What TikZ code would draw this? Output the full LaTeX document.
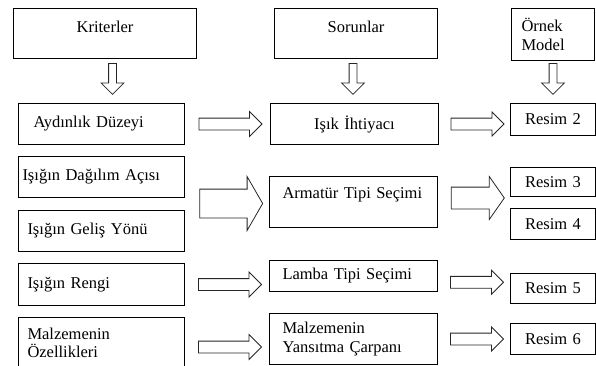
\documentclass[tikz,border=0pt]{standalone}
\usepackage{fontspec}
\setmainfont{Liberation Serif}
\usetikzlibrary{shapes.arrows, positioning, calc}
\newcommand{\diafont}{\fontsize{16.5}{18.5}\selectfont}

\begin{document}
\begin{tikzpicture}[
    x=1pt, y=-1pt,
    font=\diafont,
    box/.style    = {draw=black, line width=1pt, anchor=north west, inner ysep=0pt, align=left},
    head/.style   = {box, minimum height=50pt, align=center, text height=11pt, text depth=13pt},
    krit/.style   = {box, minimum height=41pt, inner xsep=9pt, text width=148pt},
    sorun/.style  = {box, minimum height=51pt, inner xsep=13pt, text width=142pt},
    resim/.style  = {box, inner xsep=0pt, text width=85pt, align=center},
    arr/.style    = {single arrow, draw=black!85, fill=white, line width=0.8pt,
                     single arrow head indent=0pt},
    leftarr/.style  = {arr, inner sep=5.5pt, minimum height=63pt, minimum width=24pt, single arrow head extend=6.5pt},
    rightarr/.style = {arr, inner sep=5.5pt, minimum height=53pt, minimum width=23pt, single arrow head extend=6pt},
    downarr/.style  = {arr, inner sep=3.5pt, minimum height=31pt, minimum width=22pt, single arrow head extend=7.5pt,
                       shape border rotate=270, anchor=tail},
]
\useasboundingbox (0,0) rectangle (596,365);

% ---- column heads ----
\node[head, minimum width=183pt] (kriter) at (13,8)  {Kriterler};
\node[head, minimum width=163pt] (sorun)  at (274,8) {Sorunlar};
\node[box, minimum height=52pt, inner xsep=10pt, text width=63pt] (ornek) at (511,8) {Örnek\\Model};

% ---- criteria (left column) ----
\node[krit, inner xsep=15pt, text width=136pt] (aydinlik) at (18,103) {Aydınlık Düzeyi};
\node[krit, inner xsep=4pt, text width=158pt, below=11pt of aydinlik] (dagilim) {Işığın Dağılım Açısı};
\node[krit, below=12pt of dagilim] (gelis)   {Işığın Geliş Yönü};
\node[krit, minimum height=42pt, below=11pt of gelis] (rengi) {Işığın Rengi};
\node[krit, minimum height=51pt, below=11pt of rengi] (ozellik) {Malzemenin\\Özellikleri};

% ---- problems (middle column) ----
\node[sorun, minimum height=41pt, align=center, right=85pt of aydinlik] (isik) {Işık İhtiyacı};
\node[sorun, text height=11pt, text depth=18pt] (armatur) at (269,176) {Armatür Tipi Seçimi};
\node[sorun, minimum height=31pt] (lamba) at (269,260) {Lamba Tipi Seçimi};
\node[sorun] (yansitma) at (269,313) {Malzemenin\\Yansıtma Çarpanı};

% ---- example pictures (right column) ----
\node[resim, minimum height=32pt] (resim2) at (510,103) {Resim 2};
\node[resim, minimum height=29pt] (resim3) at (510,167) {Resim 3};
\node[resim, minimum height=31pt] (resim4) at (510,208) {Resim 4};
\node[resim, minimum height=30pt] (resim5) at (510,273) {Resim 5};
\node[resim, minimum height=31pt] (resim6) at (510,323) {Resim 6};

% ---- down arrows under the heads ----
\node[downarr] (d1) at ($(kriter.south)+(7.5,4)$) {};
\node[downarr] (d2) at ($(sorun.south)+(-3,4)$)  {};
\node[downarr] (d3) at ($(ornek.south)+(0,2)$)   {};

% ---- criteria -> problems ----
\node[leftarr] (a1) at ($(aydinlik.east)!0.5!(isik.west)$) {};
\node[arr, inner sep=14pt, minimum height=63pt, minimum width=53pt, single arrow head extend=12.5pt,
      single arrow tip angle=120] (a2) at ($(dagilim.east |- armatur.west)!0.5!(armatur.west)+(0,1.5)$) {};
\node[leftarr] (a3) at ($(rengi.east)!0.5!(rengi.east -| lamba.west)$) {};
\node[leftarr] (a4) at ($(ozellik.east)!0.5!(yansitma.west)+(0,6)$) {};

% ---- problems -> examples ----
\node[rightarr] (b1) at ($(isik.east)!0.5!(isik.east -| resim2.west)$) {};
\node[arr, inner sep=10.5pt, minimum height=53pt, minimum width=42pt, single arrow head extend=10.5pt,
      single arrow tip angle=110] (b2) at ($(armatur.east)!0.5!(armatur.east -| resim3.west)+(0,-4)$) {};
\node[rightarr] (b3) at ($(lamba.east)!0.5!(resim5.west)$) {};
\node[rightarr] (b4) at ($(yansitma.east)!0.5!(resim6.west)$) {};

\end{tikzpicture}
\end{document}
